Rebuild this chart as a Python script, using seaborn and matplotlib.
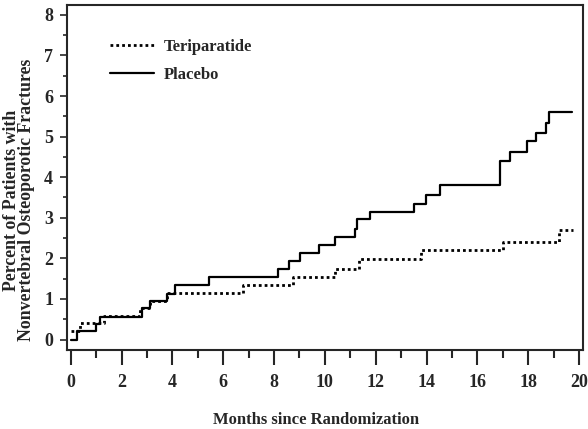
import pandas as pd
import seaborn as sns
import matplotlib.pyplot as plt
from matplotlib.ticker import MultipleLocator

"""Step values read from the curves (months, percent)"""
teri_months = [0, 0.38, 1.3, 2.74, 3.1, 3.8, 6.77, 8.76, 10.4, 11.36, 13.79, 17.03, 19.2, 19.78]
teri_pct = [0.2, 0.41, 0.59, 0.77, 0.94, 1.14, 1.35, 1.55, 1.75, 1.98, 2.2, 2.4, 2.71, 2.71]

plac_months = [0, 0.26, 0.98, 1.15, 2.8, 3.1, 3.78, 4.1, 5.42, 8.17, 8.6, 9.03, 9.75,
               10.38, 11.19, 11.28, 11.76, 13.49, 13.99, 14.54, 16.9, 17.27, 17.95,
               18.3, 18.71, 18.82, 19.72]
plac_pct = [0, 0.2, 0.38, 0.56, 0.78, 0.95, 1.12, 1.34, 1.54, 1.74, 1.94, 2.13, 2.33,
            2.53, 2.73, 2.96, 3.14, 3.35, 3.55, 3.82, 4.39, 4.63, 4.88,
            5.1, 5.34, 5.6, 5.6]

x_ticks = list(range(0, 21, 2))
y_ticks = list(range(0, 9))

sns.set_style('ticks')
plt.rcParams['font.family'] = ['Liberation Serif', 'DejaVu Serif']
plt.rcParams['font.weight'] = 'bold'

fig = plt.figure(figsize=(5.88, 4.29), dpi=100)
ax = fig.add_axes([0.114, 0.184, 0.8775, 0.804])

teri = pd.DataFrame({'month': teri_months, 'pct': teri_pct})
plac = pd.DataFrame({'month': plac_months, 'pct': plac_pct})

sns.lineplot(ax=ax, x='month', y='pct', data=teri, drawstyle='steps-post',
             color='black', lw=2, linestyle=(0, (1, 1.1)), label='Teriparatide')
sns.lineplot(ax=ax, x='month', y='pct', data=plac, drawstyle='steps-post',
             color='black', lw=1.6, label='Placebo')

ax.set_xlim(-0.15, 20.16)
ax.set_ylim(-0.26, 8.24)
ax.set_xticks(x_ticks)
ax.set_yticks(y_ticks)
ax.xaxis.set_minor_locator(MultipleLocator(1))
ax.yaxis.set_minor_locator(MultipleLocator(0.5))

for s in ax.spines.values():
    s.set_linewidth(1.5)
    s.set_visible(True)

ax.tick_params(axis='x', which='major', length=11, width=1.5, pad=6, labelsize=13)
ax.tick_params(axis='x', which='minor', length=6, width=1.5)
ax.tick_params(axis='y', which='major', length=5, width=1.2, pad=5, labelsize=13)
ax.tick_params(axis='y', which='minor', length=3, width=1.2)

ax.set_xlabel('Months since Randomization', fontsize=12, fontweight='bold', va='top')
ax.xaxis.set_label_coords(0.4835, -0.18)
ax.set_ylabel('Percent of Patients with\nNonvertebral Osteoporotic Fractures',
              fontsize=12.8, fontweight='bold', linespacing=0.85)
ax.yaxis.set_label_coords(-0.062, 0.435)

leg = ax.legend(loc='upper left', bbox_to_anchor=(0.055, 0.945), frameon=False,
                handlelength=2.6, handletextpad=0.6, labelspacing=0.7,
                prop={'size': 12, 'weight': 'bold'})

fig.savefig('out.png', dpi=100)
